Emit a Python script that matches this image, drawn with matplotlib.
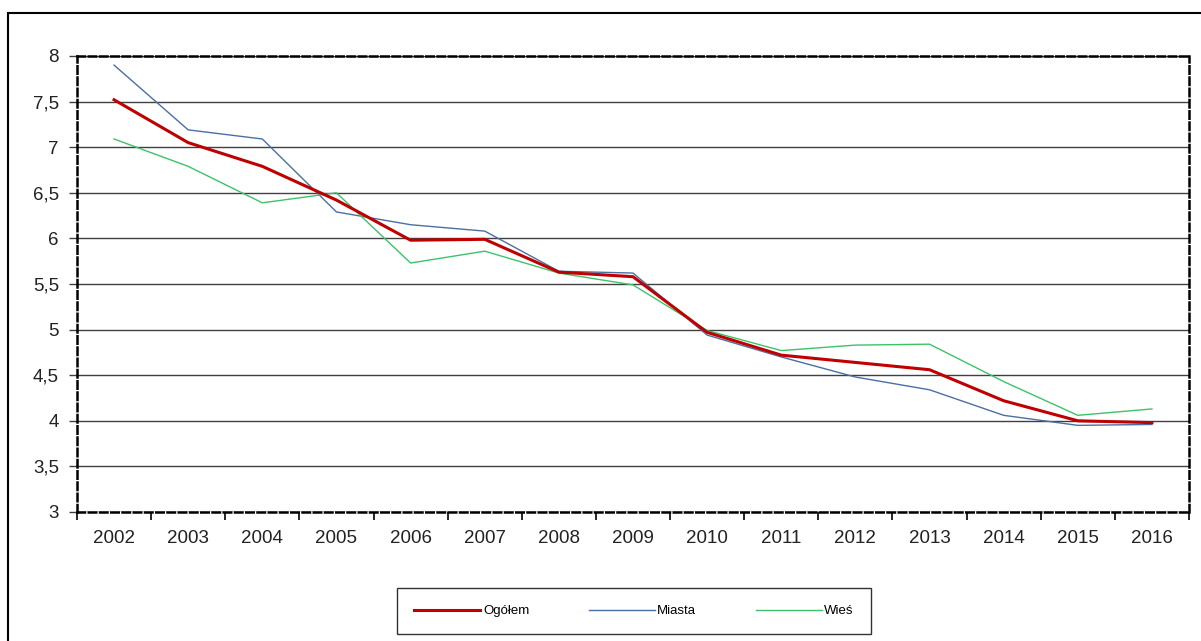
import matplotlib
matplotlib.use("Agg")
import matplotlib.pyplot as plt
from matplotlib.patches import Rectangle
from matplotlib.ticker import FixedLocator, FuncFormatter

plt.rcParams['font.family'] = ['Liberation Sans', 'DejaVu Sans']

# Dane
lata = ["2002", "2003", "2004", "2005", "2006", "2007", "2008", "2009",
        "2010", "2011", "2012", "2013", "2014", "2015", "2016"]
ogolem = [7.52, 7.05, 6.79, 6.42, 5.98, 5.99, 5.63, 5.58, 4.97, 4.72, 4.64, 4.56, 4.22, 4.00, 3.98]
miasta = [7.90, 7.19, 7.09, 6.29, 6.15, 6.08, 5.64, 5.62, 4.94, 4.70, 4.48, 4.34, 4.06, 3.95, 3.96]
wies = [7.09, 6.79, 6.39, 6.50, 5.73, 5.86, 5.62, 5.49, 4.99, 4.77, 4.83, 4.84, 4.43, 4.06, 4.13]

fig = plt.figure(figsize=(12.01, 6.41), dpi=100)

# Ramka zewnetrzna (ucieta z prawej i od dolu)
fig.patches.append(Rectangle((8 / 1201, -0.1), 1.2, 0.1 + (641 - 13) / 641,
                             transform=fig.transFigure, fill=False,
                             edgecolor="black", linewidth=1.5))

ax = fig.add_axes([77 / 1201, 129 / 641, (1189 - 77) / 1201, (512 - 56) / 641])

x = list(range(len(lata)))
ax.plot(x, miasta, color="#4a6fa5", linewidth=1.0, label="Miasta", zorder=3)
ax.plot(x, wies, color="#3cc36a", linewidth=1.0, label="Wieś", zorder=3)
ax.plot(x, ogolem, color="#c00000", linewidth=2.2, label="Ogółem", zorder=4)

ax.set_xlim(-0.5, len(lata) - 0.5)
ax.set_ylim(3, 8)

# Siatka pozioma
yt = [3 + 0.5 * i for i in range(11)]
ax.yaxis.set_major_locator(FixedLocator(yt))
ax.yaxis.set_major_formatter(FuncFormatter(lambda v, p: ("%g" % v).replace(".", ",")))
ax.grid(axis="y", color="#404040", linewidth=1.0)
ax.set_axisbelow(True)

# Os X: kreski na granicach kategorii, podpisy w srodku
ax.xaxis.set_major_locator(FixedLocator([i - 0.5 for i in range(len(lata) + 1)]))
ax.xaxis.set_major_formatter(FuncFormatter(lambda v, p: ""))
ax.xaxis.set_minor_locator(FixedLocator(x))
ax.set_xticklabels(lata, minor=True)
ax.tick_params(axis="x", which="minor", length=0, pad=13, labelsize=13.5, labelcolor="#222222")
ax.tick_params(axis="x", which="major", length=6, width=1.2, color="black")
ax.tick_params(axis="y", length=6, width=1.0, color="#404040", labelsize=13.5,
               labelcolor="#222222", pad=7)

for s in ax.spines.values():
    s.set_linestyle((0, (3, 1.5)))
    s.set_linewidth(1.8)
    s.set_color("black")

# Legenda
uchwyty, etykiety = ax.get_legend_handles_labels()
kolejnosc = [2, 0, 1]
leg = fig.legend([uchwyty[i] for i in kolejnosc], [etykiety[i] for i in kolejnosc],
                 loc="center", bbox_to_anchor=(634 / 1201, 30 / 641), ncol=3,
                 fontsize=9.5, frameon=True, fancybox=False, handlelength=5.0,
                 handletextpad=0.2, columnspacing=4.5, borderpad=1.3,
                 borderaxespad=0)
leg.get_frame().set_edgecolor("black")
leg.get_frame().set_linewidth(1.0)

fig.savefig("out.png", dpi=100)
